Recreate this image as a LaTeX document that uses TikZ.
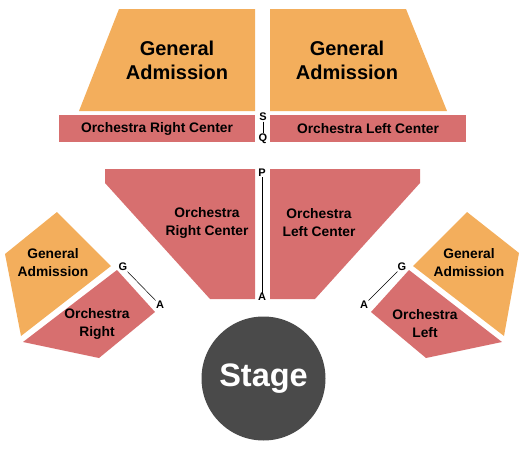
\documentclass[tikz,border=0pt]{standalone}
\usepackage{fontspec}
\setmainfont{Liberation Sans}
\usepackage{xcolor}
\usepackage{tikz}
\definecolor{gaorange}{RGB}{243,174,92}
\definecolor{orchred}{RGB}{215,111,111}
\definecolor{stagegray}{RGB}{74,74,74}
\tikzset{
    bigtxt/.style={draw=none, color=black, align=center, font=\fontsize{20}{24}\selectfont\bfseries},
    smalltxt/.style={draw=none, color=black, align=center, font=\fontsize{13.8}{18}\selectfont\bfseries},
    rowtxt/.style={draw=none, color=black, inner sep=0.5pt, font=\fontsize{11}{12}\selectfont\bfseries},
    rowline/.style={line width=0.5pt, black}
}
\begin{document}
\begin{tikzpicture}[x=1pt,y=-1pt]
        \useasboundingbox (0,0) rectangle (525,450);
        % coordinates
        \coordinate (gaR1) at (119,9);
        \coordinate (gaR2) at (255,9);
        \coordinate (gaR3) at (255,111);
        \coordinate (gaR4) at (79,111);
        \coordinate (gaL1) at (270,9);
        \coordinate (gaL2) at (406,9);
        \coordinate (gaL3) at (447,111);
        \coordinate (gaL4) at (270,111);
        \coordinate (orcR1) at (105,169);
        \coordinate (orcR2) at (255,169);
        \coordinate (orcR3) at (255,299);
        \coordinate (orcR4) at (210,299);
        \coordinate (orcR5) at (105,183);
        \coordinate (olcL1) at (270,169);
        \coordinate (olcL2) at (420,169);
        \coordinate (olcL3) at (420,183);
        \coordinate (olcL4) at (315,299);
        \coordinate (olcL5) at (270,299);
        \coordinate (gaS1) at (57,212);
        \coordinate (gaS2) at (111,266);
        \coordinate (gaS3) at (21,336);
        \coordinate (gaS4) at (5,254);
        \coordinate (gaT1) at (467,212);
        \coordinate (gaT2) at (519,253);
        \coordinate (gaT3) at (504,336);
        \coordinate (gaT4) at (413,266);
        \coordinate (orR1) at (117,270);
        \coordinate (orR2) at (155,312);
        \coordinate (orR3) at (99,358);
        \coordinate (orR4) at (23,342);
        \coordinate (orL1) at (409,270);
        \coordinate (orL2) at (371,312);
        \coordinate (orL3) at (426,358);
        \coordinate (orL4) at (502,342);

        % sections
        \fill[gaorange] (gaR1) -- (gaR2) -- (gaR3) -- (gaR4) -- cycle;
        \fill[gaorange] (gaL1) -- (gaL2) -- (gaL3) -- (gaL4) -- cycle;
        \fill[orchred] (59,115) rectangle (255,142);
        \fill[orchred] (270,115) rectangle (466,142);
        \fill[orchred] (orcR1) -- (orcR2) -- (orcR3) -- (orcR4) -- (orcR5) -- cycle;
        \fill[orchred] (olcL1) -- (olcL2) -- (olcL3) -- (olcL4) -- (olcL5) -- cycle;
        \fill[gaorange] (gaS1) -- (gaS2) -- (gaS3) -- (gaS4) -- cycle;
        \fill[gaorange] (gaT1) -- (gaT2) -- (gaT3) -- (gaT4) -- cycle;
        \fill[orchred] (orR1) -- (orR2) -- (orR3) -- (orR4) -- cycle;
        \fill[orchred] (orL1) -- (orL2) -- (orL3) -- (orL4) -- cycle;

        % stage
        \fill[stagegray] (263.5,378.5) circle (62);
        \node[draw=none, color=white, font=\fontsize{32.5}{36}\selectfont\bfseries] (stage) at (263.5,378.5) {Stage};

        % Text
        \node[bigtxt] (gaRtxt) at (177,60) {General\\Admission};
        \node[bigtxt] (gaLtxt) at (347,60) {General\\Admission};
        \node[smalltxt] (orcRtxt) at (157,129) {Orchestra Right Center};
        \node[smalltxt] (orcLtxt) at (368,129) {Orchestra Left Center};
        \node[smalltxt] (orcMRtxt) at (207,223) {Orchestra\\Right Center};
        \node[smalltxt] (orcMLtxt) at (319,223) {Orchestra\\Left Center};
        \node[smalltxt] (gaStxt) at (53,263) {General\\Admission};
        \node[smalltxt] (gaTtxt) at (469,263) {General\\Admission};
        \node[smalltxt] (orRtxt) at (97,324) {Orchestra\\Right};
        \node[smalltxt] (orLtxt) at (425,324) {Orchestra\\Left};

        % row letters
        \node[rowtxt] (rowS) at (263,117) {S};
        \node[rowtxt] (rowQ) at (263,139) {Q};
        \node[rowtxt] (rowP) at (262,173) {P};
        \node[rowtxt] (rowA) at (262,297) {A};
        \node[rowtxt] (rowGr) at (123,267) {G};
        \node[rowtxt] (rowAr) at (160,305) {A};
        \node[rowtxt] (rowGl) at (402,267) {G};
        \node[rowtxt] (rowAl) at (364,305) {A};
        \draw[rowline] (rowS) -- (rowQ);
        \draw[rowline] (rowP) -- (rowA);
        \draw[rowline] (rowGr) -- (rowAr);
        \draw[rowline] (rowGl) -- (rowAl);

    \end{tikzpicture}
\end{document}
